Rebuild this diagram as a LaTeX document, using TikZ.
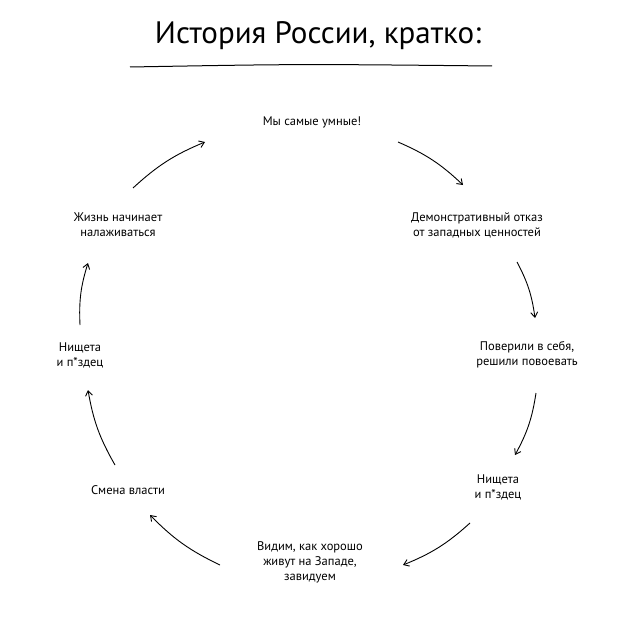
\documentclass[tikz,border=0pt]{standalone}
\usepackage{fontspec}
\setmainfont{PT Sans}
\usetikzlibrary{arrows.meta}
\begin{document}
\begin{tikzpicture}[x=1pt,y=-1pt,
  lbl/.style={align=center,font=\fontsize{12.5}{15}\selectfont},
  arr/.style={-{Straight Barb[length=5pt,width=7pt]},line width=0.9pt,bend left=10}]
\useasboundingbox[fill=white] (0,0) rectangle (640,618);
\node[font=\fontsize{31}{33}\selectfont] (t) at (318,36) {История России, кратко:};
\draw[line width=1pt] (130,67) .. controls (300,64) .. (492,66);
\node[lbl] (a) at (312,122) {Мы самые умные!};
\node[lbl] (b) at (477,225) {Демонстративный отказ\\от западных ценностей};
\node[lbl] (c) at (527,355) {Поверили в себя,\\решили повоевать};
\node[lbl] (d) at (498,487) {Нищета\\и п*здец};
\node[lbl] (e) at (310,562) {Видим, как хорошо\\живут на Западе,\\завидуем};
\node[lbl] (f) at (128,490) {Смена власти};
\node[lbl] (g) at (80,355) {Нищета\\и п*здец};
\node[lbl] (h) at (118,225) {Жизнь начинает\\налаживаться};
\coordinate (h1) at (133,188); \coordinate (a0) at (205,142);
\coordinate (a1) at (398,142); \coordinate (b0) at (463,185);
\coordinate (b1) at (517,262); \coordinate (c0) at (535,318);
\coordinate (c1) at (536,393); \coordinate (d0) at (515,455);
\coordinate (d1) at (470,523); \coordinate (e0) at (403,565);
\coordinate (e1) at (220,565); \coordinate (f0) at (150,515);
\coordinate (f1) at (115,465); \coordinate (g0) at (88,390);
\coordinate (g1) at (80,325); \coordinate (h0) at (88,263);
\draw[arr] (h1) to (a0);
\draw[arr] (a1) to (b0);
\draw[arr] (b1) to (c0);
\draw[arr] (c1) to (d0);
\draw[arr] (d1) to (e0);
\draw[arr] (e1) to (f0);
\draw[arr] (f1) to (g0);
\draw[arr] (g1) to (h0);
\end{tikzpicture}
\end{document}
